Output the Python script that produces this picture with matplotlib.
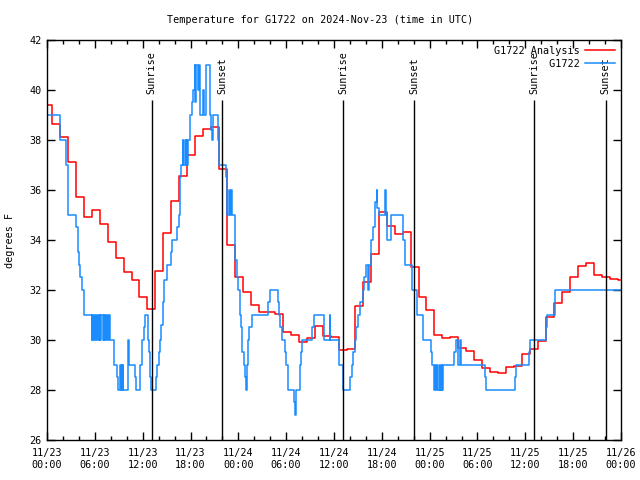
import matplotlib
matplotlib.use("Agg")
import matplotlib.pyplot as plt
import numpy as np

plt.rcParams["font.family"] = ["DejaVu Sans Mono"]
plt.rcParams["font.size"] = 7.3

# hourly analysis (steps switch at about HH:36)
red_t = [0.0] + [h + 0.6 for h in range(72)]
red_v = [39.4, 38.65, 38.1, 37.1, 35.7, 34.9, 35.2, 34.65, 33.9, 33.3, 32.7, 32.4, 31.7,
         31.25, 32.75, 34.3, 35.55, 36.55, 37.4, 38.15, 38.45, 38.5, 36.85, 33.8, 32.5,
         31.9, 31.4, 31.13, 31.1, 31.04, 30.33, 30.2, 29.92, 30.07, 30.56, 30.15, 30.1,
         29.6, 29.65, 31.35, 32.33, 33.43, 35.1, 34.56, 34.24, 34.33, 32.93, 31.7, 31.2,
         30.2, 30.07, 30.13, 29.67, 29.56, 29.2, 28.87, 28.7, 28.67, 28.9, 28.96, 29.44,
         29.63, 29.96, 30.9, 31.47, 31.9, 32.5, 32.96, 33.07, 32.6, 32.5, 32.43, 32.4]

# station observations (hours since 11/23 00:00 UTC, deg F)
blue_t = [0.0, 0.05, 1.59, 2.34, 2.59, 2.68, 3.68, 3.85, 4.01, 4.18, 4.35, 4.6, 4.68,
          5.6, 5.69, 5.77, 5.85, 6.02, 6.1, 6.27, 6.43, 6.52, 6.6, 6.69, 6.77, 7.02, 7.1,
          7.19, 7.27, 7.44, 7.52, 7.69, 7.77, 7.9, 8.36, 8.78, 8.95, 9.2, 9.25, 9.35, 9.4,
          9.5, 9.55, 10.1, 10.2, 10.3, 11.04, 11.21, 11.7, 11.96, 12.13, 12.25, 12.67,
          12.83, 12.92, 13.0, 13.67, 13.84, 14.0, 14.17, 14.34, 14.51, 14.68, 15.01, 15.5,
          15.68, 16.35, 16.52, 16.68, 16.85, 17.02, 17.1, 17.27, 17.4, 17.45, 17.6, 17.68,
          17.94, 18.15, 18.35, 18.52, 18.6, 18.65, 19.0, 19.1, 19.25, 19.55, 19.65, 19.9,
          20.45, 20.55, 20.7, 20.86, 21.45, 21.6, 22.45, 22.55, 22.85, 22.9, 23.05, 23.2,
          23.6, 23.83, 24.0, 24.17, 24.33, 24.5, 24.67, 24.84, 24.96, 25.05, 25.2, 25.4,
          25.68, 27.76, 27.93, 28.94, 29.1, 29.27, 29.44, 29.85, 30.02, 30.2, 30.95, 31.1,
          31.28, 31.7, 31.86, 32.0, 33.28, 33.45, 34.7, 35.45, 35.55, 36.67, 37.1, 38.0,
          38.2, 38.4, 38.6, 38.8, 39.05, 39.26, 39.6, 39.8, 40.0, 40.3, 40.4, 40.7, 40.9,
          41.1, 41.35, 41.45, 41.7, 42.4, 42.5, 42.65, 43.2, 44.7, 44.9, 45.75, 46.37, 47.2,
          48.17, 48.3, 48.6, 48.65, 48.85, 48.95, 49.1, 49.25, 49.35, 49.55, 49.6, 49.7,
          51.1, 51.26, 51.5, 51.8, 51.9, 54.94, 55.1, 58.7, 58.87, 60.5, 60.6, 62.6, 62.76,
          63.7, 63.77, 72.0]
blue_v = [40, 39, 38, 37, 36.5, 35, 34.5, 33.5, 33, 32.5, 32, 31.5, 31,
          30, 31, 30, 31, 30, 31, 30, 31, 30, 31, 30, 31, 30, 31,
          30, 31, 30, 31, 30, 31, 30, 29, 28.5, 28, 29, 28, 29, 28,
          29, 28, 29, 30, 29, 28.5, 28, 29, 30, 30.5, 31, 30,
          29.5, 28.5, 28, 28.5, 29, 29.5, 30, 30.6, 31.5, 32.4, 33, 33.5,
          34, 34.5, 35, 36.5, 37, 38, 37, 38, 37, 38, 37, 38,
          39, 39.5, 40, 41, 39.5, 41, 40, 41, 39, 40, 39, 41,
          39, 38.4, 38, 39, 38, 37, 36.5, 35, 36, 35, 36, 35,
          33.2, 32.5, 32, 31, 30.5, 29.5, 29, 28.5, 28, 29, 30, 30.5,
          31, 31.5, 32, 31.5, 31, 30.5, 30, 29.5, 29, 28, 27.5, 27,
          28, 29, 29.5, 30, 30.5, 31, 30, 31, 30, 29, 28, 28.5,
          29, 29.5, 30, 30.5, 31, 31.5, 32, 32.5, 33, 32, 33, 34, 34.5,
          35.5, 36, 35.3, 35, 36, 35, 34, 35, 34, 33, 32, 31, 30,
          29.5, 29, 28, 29, 28, 29, 28, 29, 28, 29, 28, 29,
          29.5, 30, 29, 30, 29, 28.5, 28, 28.5, 29, 29.5, 30, 30.5, 31,
          31.5, 32, 32]

sunrise_h = [13.13, 37.17, 61.13]
sunset_h = [21.99, 46.08, 70.08]

tick_hours = [0, 6, 12, 18, 24, 30, 36, 42, 48, 54, 60, 66, 72]
tick_labels = ["11/23\n00:00", "11/23\n06:00", "11/23\n12:00", "11/23\n18:00",
               "11/24\n00:00", "11/24\n06:00", "11/24\n12:00", "11/24\n18:00",
               "11/25\n00:00", "11/25\n06:00", "11/25\n12:00", "11/25\n18:00",
               "11/26\n00:00"]

fig = plt.figure(figsize=(6.4, 4.8), dpi=100)
ax = fig.add_axes([47 / 640, 40 / 480, 574 / 640, 400 / 480])

ax.step(red_t + [72.0], red_v + [red_v[-1]], where="post", color="#ff0000", lw=1.1,
        label="G1722 Analysis")
ax.step(blue_t, blue_v, where="post", color="#1a8cff", lw=1.1, label="         G1722")

for h in sunrise_h:
    ax.vlines(h, 26, 39.6, color="black", lw=1)
    ax.text(h, 39.85, "Sunrise", rotation=90, ha="center", va="bottom")
for h in sunset_h:
    ax.vlines(h, 26, 39.6, color="black", lw=1)
    ax.text(h, 39.85, "Sunset", rotation=90, ha="center", va="bottom")

ax.set_xlim(0, 72)
ax.set_ylim(26, 42)
ax.set_xticks(tick_hours)
ax.set_xticklabels(tick_labels)
ax.set_xticks(np.arange(0, 73, 2), minor=True)
ax.set_yticks(np.arange(26, 43, 2))
ax.tick_params(axis="x", which="major", pad=6)
ax.tick_params(which="major", direction="in", top=True, right=True, length=6, width=1)
ax.tick_params(which="minor", direction="in", top=True, right=True, length=3, width=1)
ax.tick_params(axis="y", pad=4)
for s in ax.spines.values():
    s.set_linewidth(1)

ax.legend(loc="upper right", frameon=False, markerfirst=False, handlelength=3,
          handletextpad=0.5, labelspacing=0.3, borderaxespad=0.15)

fig.text(10 / 640, 0.5, "degrees F", rotation=90, ha="center", va="center")
fig.text(0.5, 1 - 20 / 480, "Temperature for G1722 on 2024-Nov-23 (time in UTC)",
         ha="center", va="center")

plt.savefig("out.png", dpi=100)
